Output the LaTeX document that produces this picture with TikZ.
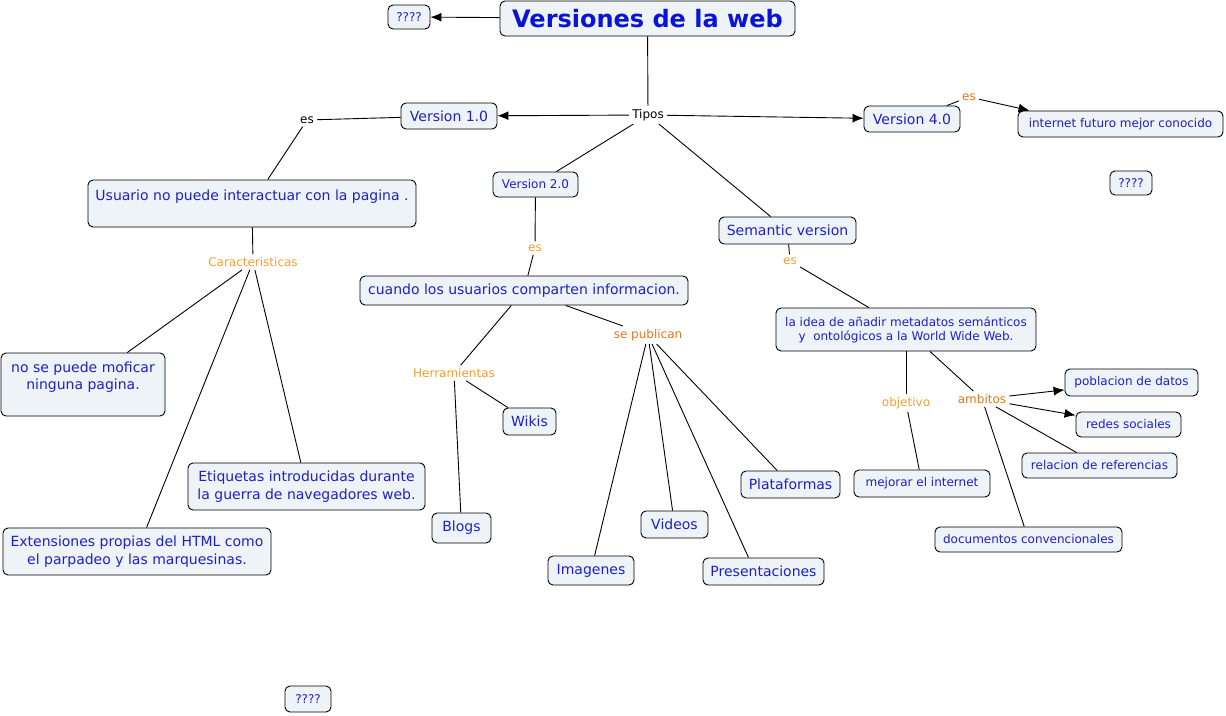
\documentclass[tikz,border=0pt]{standalone}
\usepackage{fontspec}
\setmainfont{DejaVu Sans}
\usetikzlibrary{arrows.meta}
\definecolor{txtblue}{HTML}{1F1FC8}
\definecolor{titleblue}{HTML}{0A14D8}
\definecolor{boxfill}{HTML}{EDF3F6}
\definecolor{lorange}{HTML}{F0A030}
\definecolor{dorange}{HTML}{E8741E}
\tikzset{
 cbox/.style={draw=black, line width=0.9pt, rounded corners=5pt, fill=boxfill, text=txtblue, inner sep=0pt, align=center},
 big/.style={font=\fontsize{14}{17.5}\selectfont},
 small/.style={font=\fontsize{12}{14}\selectfont},
 lbl/.style={font=\fontsize{12}{14}\selectfont, inner sep=3pt},
 lo/.style={lbl, text=lorange},
 do/.style={lbl, text=dorange},
 bl/.style={lbl, text=black},
 conn/.style={draw=black, line width=0.9pt},
 arr/.style={conn, -{Latex[length=11pt,width=9pt]}},
}
\begin{document}
\begin{tikzpicture}[x=1pt,y=-1pt]
\useasboundingbox (0,0) rectangle (1226,715);
\fill[white] (0,0) rectangle (1226,715);

% boxes
\node[cbox, text=titleblue, font=\fontsize{24}{28}\selectfont\bfseries, minimum width=295, minimum height=35] (title) at (647.5,18.5) {Versiones de la web};
\node[cbox, small, minimum width=42, minimum height=24] (q1) at (409,17) {????};
\node[cbox, big, minimum width=96, minimum height=26] (v1) at (449,116) {Version 1.0};
\node[cbox, big, minimum width=96, minimum height=26] (v4) at (912,119) {Version 4.0};
\node[cbox, small, minimum width=205, minimum height=26] (inet) at (1120.5,124) {internet futuro mejor conocido};
\node[cbox, small, minimum width=42, minimum height=24] (q2) at (1131,183) {????};
\node[cbox, big, minimum width=328, minimum height=47] (usu) at (252,203.5) {Usuario no puede interactuar con la pagina .\\\mbox{}};
\node[cbox, big, minimum width=164, minimum height=63] (nop) at (83,384.5) {no se puede moficar\\ninguna pagina.\\\mbox{}};
\node[cbox, big, minimum width=237, minimum height=47] (eti) at (306.5,486.5) {Etiquetas introducidas durante\\la guerra de navegadores web.};
\node[cbox, big, minimum width=268, minimum height=47] (ext) at (137,551.5) {Extensiones propias del HTML como\\el parpadeo y las marquesinas.};
\node[cbox, small, minimum width=85, minimum height=25] (v2) at (535.5,184.5) {Version 2.0};
\node[cbox, big, minimum width=328, minimum height=29] (cua) at (524,290.5) {cuando los usuarios comparten informacion.};
\node[cbox, big, minimum width=53, minimum height=27] (wik) at (529.5,421.5) {Wikis};
\node[cbox, big, minimum width=59, minimum height=30] (blo) at (461.5,528) {Blogs};
\node[cbox, big, minimum width=86, minimum height=29] (ima) at (591,570.5) {Imagenes};
\node[cbox, big, minimum width=67, minimum height=27] (vid) at (674.5,524.5) {Videos};
\node[cbox, big, minimum width=121, minimum height=27] (pre) at (763.5,571.5) {Presentaciones};
\node[cbox, big, minimum width=99, minimum height=27] (pla) at (790.5,484.5) {Plataformas};
\node[cbox, big, minimum width=137, minimum height=27] (sem) at (787.5,230.5) {Semantic version};
\node[cbox, small, minimum width=260, minimum height=43] (ide) at (906,329.5) {la idea de añadir metadatos semánticos\\y\ \ ontológicos a la World Wide Web.};
\node[cbox, small, minimum width=136, minimum height=27] (mej) at (922,483.5) {mejorar el internet};
\node[cbox, small, minimum width=133, minimum height=27] (pob) at (1131.5,382.5) {poblacion de datos};
\node[cbox, small, minimum width=105, minimum height=25] (red) at (1128.5,424.5) {redes sociales};
\node[cbox, small, minimum width=155, minimum height=25] (rel) at (1099.5,465.5) {relacion de referencias};
\node[cbox, small, minimum width=187, minimum height=25] (doc) at (1028.5,539.5) {documentos convencionales};
\node[cbox, small, minimum width=46, minimum height=26] (q3) at (308,699) {????};

% linking labels
\node[bl] (tip) at (648,115) {Tipos};
\node[bl] (es1) at (307,120) {es};
\node[do] (es4) at (969,97) {es};
\node[lo] (car) at (253,262) {Caracteristicas};
\node[lo] (es2) at (535,248) {es};
\node[lo] (her) at (454,373) {Herramientas};
\node[do] (spu) at (648,335) {se publican};
\node[lo] (ess) at (790,261) {es};
\node[lo] (obj) at (906,403) {objetivo};
\node[do] (amb) at (982,399) {ambitos};

% connectors
\draw[arr] (title) -- (q1);
\draw[conn] (title) -- (tip);
\draw[arr] (tip) -- (v1);
\draw[arr] (tip) -- (v4);
\draw[conn] (tip) -- (v2);
\draw[conn] (tip) -- (sem);
\draw[conn] (v1) -- (es1);
\draw[conn] (es1) -- (usu);
\draw[conn] (v4) -- (es4);
\draw[arr] (es4) -- ([xshift=12pt]inet.north west);
\draw[conn] (usu) -- (car);
\draw[conn] (car) -- (nop);
\draw[conn] (car) -- (ext);
\draw[conn] (car) -- (eti);
\draw[conn] (v2) -- (es2);
\draw[conn] (es2) -- (cua);
\draw[conn] (cua) -- (her);
\draw[conn] (cua) -- (spu);
\draw[conn] (her) -- (wik);
\draw[conn] (her) -- (blo);
\draw[conn] (spu) -- (ima);
\draw[conn] (spu) -- (vid);
\draw[conn] (spu) -- ([xshift=-15pt]pre.north);
\draw[conn] (spu) -- (pla);
\draw[conn] (sem) -- (ess);
\draw[conn] (ess) -- (ide);
\draw[conn] (ide) -- (obj);
\draw[conn] (obj) -- (mej);
\draw[conn] (ide) -- (amb);
\draw[arr] (amb) -- (pob);
\draw[arr] (amb) -- (red);
\draw[conn] (amb) -- (rel);
\draw[conn] (amb) -- (doc);
\end{tikzpicture}
\end{document}
